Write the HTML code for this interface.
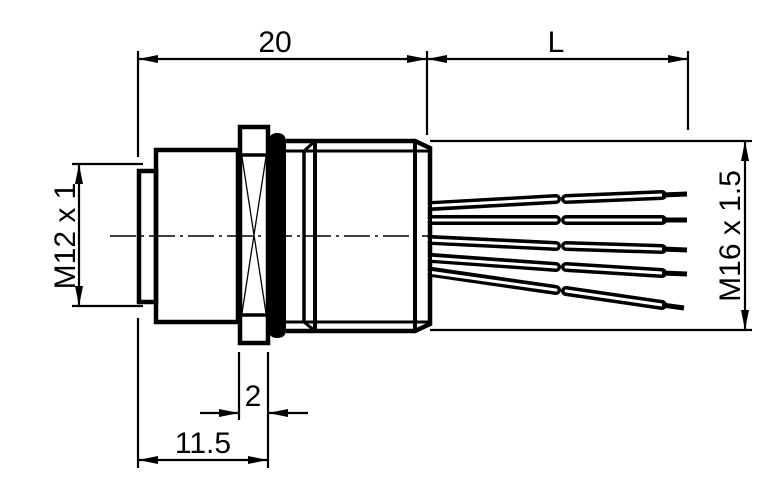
<!DOCTYPE html>
<html><head><style>html,body{margin:0;padding:0;background:#fff}svg{display:block}</style></head><body>
<svg width="780" height="496" viewBox="0 0 780 496" xmlns="http://www.w3.org/2000/svg">
<defs>
<marker id="a" viewBox="0 0 20 8" refX="20" refY="4" markerWidth="20" markerHeight="8" markerUnits="userSpaceOnUse" orient="auto-start-reverse"><path d="M0,0L20,4L0,8z" fill="#000"/></marker>
</defs>
<g stroke="#000" fill="none" stroke-width="2.2">
<line x1="138" y1="51" x2="138" y2="157"/>
<line x1="138" y1="318" x2="138" y2="468"/>
<line x1="427" y1="51" x2="427" y2="135"/>
<line x1="688" y1="51" x2="688" y2="130"/>
<line x1="72" y1="164" x2="143" y2="164"/>
<line x1="72" y1="306" x2="143" y2="306"/>
<line x1="430" y1="141" x2="752" y2="141"/>
<line x1="430" y1="330" x2="752" y2="330"/>
<line x1="239" y1="352" x2="239" y2="420"/>
<line x1="268" y1="352" x2="268" y2="468"/>
<line x1="138" y1="59" x2="427" y2="59" marker-start="url(#a)" marker-end="url(#a)"/>
<line x1="427" y1="59" x2="688" y2="59" marker-start="url(#a)" marker-end="url(#a)"/>
<line x1="79" y1="164" x2="79" y2="306" marker-start="url(#a)" marker-end="url(#a)"/>
<line x1="745" y1="141" x2="745" y2="330" marker-start="url(#a)" marker-end="url(#a)"/>
<line x1="138" y1="460" x2="268" y2="460" marker-start="url(#a)" marker-end="url(#a)"/>
<line x1="200" y1="413" x2="239" y2="413" marker-end="url(#a)"/>
<line x1="308" y1="413" x2="268" y2="413" marker-end="url(#a)"/>
</g>
<g stroke="#000" fill="none" stroke-width="4.5">
<rect x="139" y="171" width="17" height="131"/>
<rect x="156" y="150" width="82" height="172"/>
<rect x="240" y="127" width="28" height="216"/>
<line x1="240" y1="155" x2="268" y2="155" stroke-width="3.5"/>
<line x1="240" y1="315" x2="268" y2="315" stroke-width="3.5"/>
<polyline points="286,141 415,141 430,148 430,324 415,331 286,331"/>
<line x1="286" y1="151" x2="430" y2="151" stroke-width="3"/>
<line x1="286" y1="322" x2="430" y2="322" stroke-width="3"/>
<line x1="304" y1="151" x2="304" y2="322" stroke-width="3.5"/>
<line x1="315" y1="141" x2="315" y2="331" stroke-width="4"/>
<line x1="304" y1="151" x2="315" y2="141" stroke-width="3"/>
<line x1="304" y1="322" x2="315" y2="331" stroke-width="3"/>
<line x1="415" y1="141" x2="415" y2="331" stroke-width="4"/>
</g>
<line x1="242" y1="157" x2="266" y2="313" stroke="#000" stroke-width="1.3"/>
<line x1="266" y1="157" x2="242" y2="313" stroke="#000" stroke-width="1.3"/>
<path d="M269,142 Q269,133 277,133 Q286,133 286,142 L286,330 Q286,338 277,338 Q269,338 269,330 Z" fill="#000"/>
<line x1="110" y1="236" x2="432" y2="236" stroke="#000" stroke-width="1.6" stroke-dasharray="26,5,3,5"/>
<g stroke-linecap="round" fill="none">
<g stroke="#000" stroke-width="10">
<line x1="432" y1="206" x2="556" y2="199"/><line x1="566" y1="199" x2="662" y2="195"/>
<line x1="432" y1="220" x2="556" y2="220"/><line x1="566" y1="220" x2="662" y2="220"/>
<line x1="432" y1="240" x2="556" y2="246"/><line x1="566" y1="246" x2="662" y2="249"/>
<line x1="432" y1="258" x2="556" y2="267"/><line x1="566" y1="267" x2="662" y2="273"/>
<line x1="432" y1="272" x2="556" y2="290"/><line x1="566" y1="291" x2="662" y2="305"/>
</g>
<g stroke="#fff" stroke-width="3">
<line x1="428" y1="206" x2="556" y2="199"/><line x1="566" y1="199" x2="662" y2="195"/>
<line x1="428" y1="220" x2="556" y2="220"/><line x1="566" y1="220" x2="662" y2="220"/>
<line x1="428" y1="240" x2="556" y2="246"/><line x1="566" y1="246" x2="662" y2="249"/>
<line x1="428" y1="258" x2="556" y2="267"/><line x1="566" y1="267" x2="662" y2="273"/>
<line x1="428" y1="272" x2="556" y2="290"/><line x1="566" y1="291" x2="662" y2="305"/>
</g>
<g stroke="#000" stroke-width="5" stroke-linecap="butt">
<line x1="662" y1="195" x2="687" y2="194"/>
<line x1="662" y1="220" x2="687" y2="220"/>
<line x1="662" y1="249" x2="687" y2="250"/>
<line x1="662" y1="273" x2="687" y2="274"/>
<line x1="662" y1="305" x2="684" y2="308"/>
</g>
</g>
<rect x="428" y="150" width="4" height="172" fill="#000"/>
<g font-family="Liberation Sans, sans-serif" font-size="30" fill="#000" text-anchor="middle">
<text x="275" y="52">20</text>
<text x="556" y="52">L</text>
<text x="203" y="453">11.5</text>
<text x="253" y="406">2</text>
<text transform="translate(75,236) rotate(-90)">M12 x 1</text>
<text transform="translate(740,236) rotate(-90)">M16 x 1.5</text>
</g>
</svg>
</body></html>
